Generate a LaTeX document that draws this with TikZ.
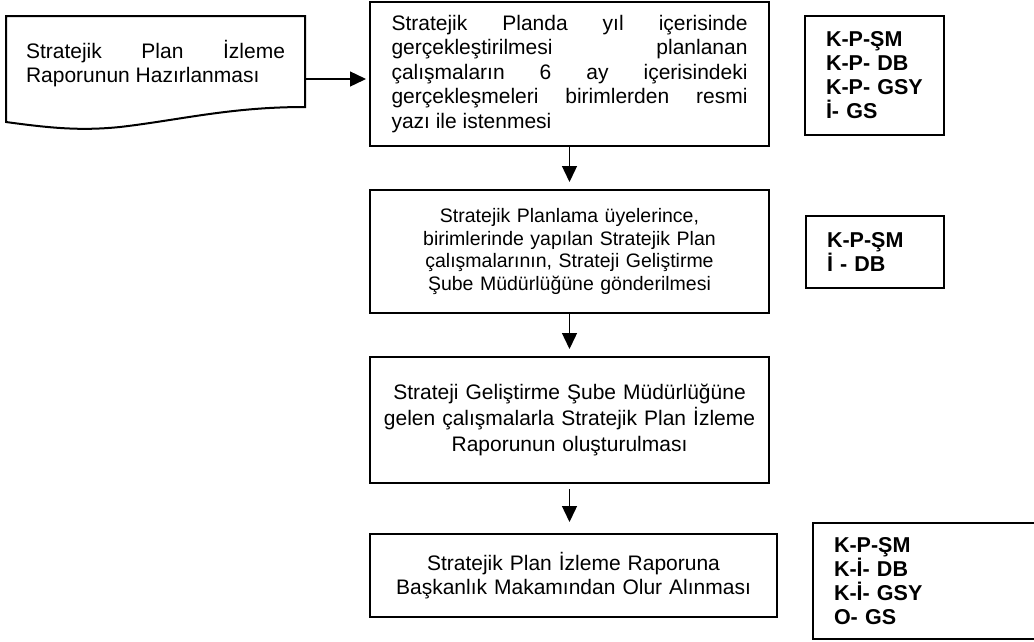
\documentclass[tikz,border=0pt]{standalone}
\usepackage{fontspec}
\setmainfont{Liberation Sans}
\usetikzlibrary{arrows.meta}

\begin{document}
\begin{tikzpicture}[
            x=1pt, y=-1pt,
            every node/.style={font=\fontsize{21}{24.5}\selectfont},
            box/.style={draw, line width=2pt, inner sep=0pt, text width=388pt, align=center, minimum width=399pt},
            kod/.style={draw, line width=2pt, inner xsep=21pt, inner ysep=0pt, align=left, font=\fontsize{21.5}{24}\selectfont\bfseries},
            flow/.style={line width=1.4pt, -{Triangle[length=16pt,width=15pt]}}
            ]
        \useasboundingbox (0,0) rectangle (1034,641);
        % belge
        \draw[line width=2pt] (305,107) .. controls (230,107) and (180,120) .. (120,127)
            .. controls (80,131) and (50,128) .. (6,122) -- (6,16) -- (305,16) -- cycle;
        \node[inner sep=0pt, minimum width=299pt, text width=259pt, align=justify] (plan) at (155.5,63.5)
            {Stratejik Plan İzleme\linebreak Raporunun Hazırlanması};
        % adimlar
        \node[box, minimum height=144pt, text width=356pt, align=justify] (istek) at (569.5,74)
            {Stratejik Planda yıl içerisinde\linebreak gerçekleştirilmesi planlanan\linebreak
             çalışmaların 6 ay içerisindeki\linebreak gerçekleşmeleri birimlerden resmi\linebreak
             yazı ile istenmesi};
        \node[box, minimum height=123pt, font=\fontsize{19.5}{22.5}\selectfont] (gonder) at (569.5,251.5)
            {Stratejik Planlama üyelerince,\\ birimlerinde yapılan Stratejik Plan\\
             çalışmalarının, Strateji Geliştirme\\ Şube Müdürlüğüne gönderilmesi};
        \node[box, minimum height=126pt, font=\fontsize{21}{26}\selectfont] (rapor) at (569.5,420)
            {Strateji Geliştirme Şube Müdürlüğüne\\ gelen çalışmalarla Stratejik Plan İzleme\\
             Raporunun oluşturulması};
        \node[box, minimum width=407pt, minimum height=83pt] (onay) at (573.5,575.5)
            {Stratejik Plan İzleme Raporuna\\ Başkanlık Makamından Olur Alınması};
        % sorumlular
        \node[kod, text width=97pt, minimum width=139pt, minimum height=119pt] (kod1) at (874.5,75.5)
            {K-P-ŞM\\ K-P-~DB\\ K-P-~GSY\\ İ-~GS};
        \node[kod, text width=96pt, minimum width=138pt, minimum height=72pt] (kod2) at (875,252)
            {K-P-ŞM\\ İ~-~DB};
        \node[kod, text width=185pt, minimum width=227pt, minimum height=116pt] (kod3) at (926.5,581)
            {K-P-ŞM\\ K-İ-~DB\\ K-İ-~GSY\\ O-~GS};
        % oklar
        \draw[flow, shorten >=3pt] ([yshift=-15.5pt]plan.east) -- ([yshift=-15.5pt]plan.east -| istek.west);
        \draw[flow, shorten >=7pt] (istek) -- (gonder);
        \draw[flow, shorten >=7pt] (gonder) -- (rapor);
        \draw[flow, shorten <=5pt, shorten >=11pt] (rapor.south) -- (rapor.south |- onay.north);
        \end{tikzpicture}
\end{document}
